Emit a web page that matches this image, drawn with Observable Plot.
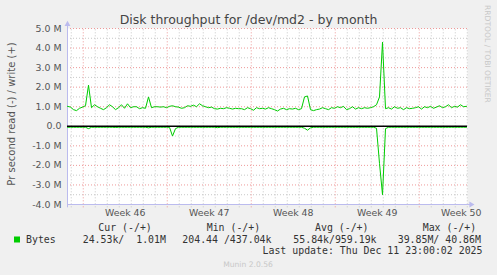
<!DOCTYPE html>
<html><head><meta charset="utf-8">
<script src="https://cdn.jsdelivr.net/npm/d3@7"></script>
<script src="https://cdn.jsdelivr.net/npm/@observablehq/plot@0.6"></script>
<style>
html,body{margin:0;padding:0;background:#F0F0F0;}
#wrap{position:relative;width:497px;height:275px;overflow:hidden;background:#F0F0F0;}
#wrap > svg{position:absolute;left:0;top:0;}
</style></head><body><div id="wrap"></div>
<script>
// ---------- data ----------
const title = "Disk throughput for /dev/md2 - by month";
const yLabel = "Pr second read (-) / write (+)";
const sideLabel = "RRDTOOL / TOBI OETIKER";
const versionLabel = "Munin 2.0.56";
const yTicks = [-4, -3, -2, -1, 0, 1, 2, 3, 4, 5];
const yTickLabels = ["-4.0 M", "-3.0 M", "-2.0 M", "-1.0 M", "0.0", "1.0 M", "2.0 M", "3.0 M", "4.0 M", "5.0 M"];
const weekLabels = ["Week 46", "Week 47", "Week 48", "Week 49", "Week 50"];
const weekStarts = ["2025-11-10", "2025-11-17", "2025-11-24", "2025-12-01", "2025-12-08"];
const startTime = "2025-11-08T16:30:00Z";
const endTime = "2025-12-12T00:30:00Z";
const sampleHours = 6;
// write (+), MB/s
const writeM = [
  1.02, 0.98, 0.85, 0.80, 0.92, 0.98, 1.05, 2.10, 0.95, 1.10,
  1.00, 0.92, 0.85, 0.95, 1.10, 1.00, 0.85, 0.95, 1.10, 0.92,
  1.15, 0.95, 1.00, 1.00, 0.90, 0.95, 0.92, 1.50, 0.95, 1.00,
  1.00, 0.98, 1.00, 0.95, 1.02, 1.05, 1.00, 0.98, 0.92, 0.95,
  1.05, 1.02, 1.08, 1.00, 1.15, 1.05, 1.00, 0.95, 0.98, 0.90,
  0.88, 0.92, 0.90, 0.95, 0.92, 0.88, 0.92, 0.90, 0.90, 0.85,
  0.95, 0.90, 0.82, 0.95, 0.90, 0.92, 0.88, 0.95, 0.90, 0.85,
  0.78, 0.88, 0.92, 0.85, 0.90, 0.88, 0.92, 0.85, 0.90, 1.50,
  1.55, 0.85, 0.80, 0.85, 0.88, 0.95, 0.90, 0.85, 0.95, 0.92,
  1.00, 0.95, 1.02, 0.85, 0.90, 1.00, 0.88, 0.95, 0.90, 0.95,
  0.92, 0.95, 1.00, 1.10, 1.50, 4.30, 0.90, 0.95, 0.88, 1.00,
  0.92, 0.95, 0.85, 0.95, 0.90, 0.92, 0.95, 1.00, 0.88, 1.00,
  0.95, 1.02, 0.92, 0.98, 1.05, 0.95, 1.00, 1.10, 0.95, 1.02,
  0.98, 1.10, 1.00, 1.02
];
// read (-), MB/s
const readM = [
  0.05, 0.05, 0.05, 0.05, 0.05, 0.05, 0.05, 0.12, 0.05, 0.05,
  0.05, 0.05, 0.05, 0.05, 0.05, 0.05, 0.06, 0.05, 0.05, 0.05,
  0.05, 0.05, 0.05, 0.05, 0.05, 0.05, 0.05, 0.08, 0.05, 0.05,
  0.05, 0.05, 0.05, 0.05, 0.05, 0.50, 0.12, 0.05, 0.05, 0.05,
  0.05, 0.05, 0.05, 0.05, 0.05, 0.05, 0.05, 0.05, 0.05, 0.05,
  0.07, 0.05, 0.05, 0.05, 0.05, 0.05, 0.05, 0.05, 0.05, 0.05,
  0.05, 0.05, 0.05, 0.05, 0.05, 0.05, 0.05, 0.05, 0.05, 0.05,
  0.05, 0.05, 0.05, 0.05, 0.05, 0.05, 0.05, 0.05, 0.05, 0.10,
  0.20, 0.08, 0.05, 0.05, 0.05, 0.05, 0.05, 0.05, 0.05, 0.05,
  0.05, 0.05, 0.05, 0.05, 0.05, 0.05, 0.05, 0.05, 0.05, 0.05,
  0.05, 0.05, 0.05, 0.10, 1.90, 3.50, 0.12, 0.05, 0.05, 0.05,
  0.05, 0.05, 0.05, 0.05, 0.05, 0.05, 0.05, 0.05, 0.05, 0.05,
  0.05, 0.05, 0.05, 0.05, 0.05, 0.05, 0.05, 0.05, 0.05, 0.05,
  0.05, 0.05, 0.05, 0.05
];
const legendSeries = "Bytes";
const legendHeaders = ["Cur (-/+)", "Min (-/+)", "Avg (-/+)", "Max (-/+)"];
const legendValues = ["24.53k/  1.01M", "204.44 /437.04k", "55.84k/959.19k", "39.85M/ 40.86M"];
const lastUpdate = "Last update: Thu Dec 11 23:00:02 2025";

// ---------- chart ----------
const green = "#00CC00", gridGray = "#C8C8C8", gridRed = "#EE9999", axisCol = "#BBBBEE";
const t0 = new Date(startTime), t1 = new Date(endTime);
const step = sampleHours * 3600e3;
const writeData = writeM.map((v, i) => ({t: new Date(+t0 + i * step), v}));
const readData = readM.map((v, i) => ({t: new Date(+t0 + i * step), v: -v}));
const weeks = weekStarts.map(s => new Date(s + "T00:00:00Z"));
const weekMids = weeks.map(d => new Date(+d + 3.5 * 864e5));
const days = d3.utcDay.range(d3.utcDay.ceil(t0), t1).filter(d => d.getUTCDay() !== 1);
const yMin = yTicks[0], yMax = yTicks[yTicks.length - 1];
const minorY = yTicks.slice(0, -1).map(v => v + 0.5);
const below = yMin - 0.17;
const arrowX = new Date(+t1 + 0.3 * 864e5);

const chart = Plot.plot({
  width: 497, height: 222,
  marginLeft: 67, marginRight: 30, marginTop: 28, marginBottom: 18,
  style: {background: "transparent", fontFamily: "DejaVu Sans", fontSize: "9.4px", color: "#555", overflow: "visible"},
  x: {type: "utc", domain: [t0, t1], label: null},
  y: {domain: [yMin, yMax], label: null},
  marks: [
    Plot.frame({fill: "white", stroke: null}),
    Plot.ruleY(minorY, {stroke: gridGray, strokeDasharray: "1,2"}),
    Plot.ruleX(days, {y1: below, y2: yMax, stroke: gridGray, strokeDasharray: "1,2"}),
    Plot.ruleY(yTicks.filter(v => v !== 0 && v !== yMin), {stroke: gridRed, strokeDasharray: "1,2"}),
    Plot.ruleX(weeks, {y1: below, y2: yMax, stroke: gridRed, strokeDasharray: "1,2"}),
    Plot.ruleX([t0], {y1: below, y2: yMax + 0.3, stroke: axisCol}),
    Plot.ruleY([yMin], {x1: t0, x2: arrowX, stroke: axisCol}),
    Plot.dot([{t: t0, v: yMax + 0.22}], {x: "t", y: "v", symbol: "triangle", r: 2.2, fill: axisCol, stroke: null}),
    Plot.dot([{t: arrowX, v: yMin}], {x: "t", y: "v", symbol: "triangle", r: 2.2, rotate: 90, fill: axisCol, stroke: null}),
    Plot.line(readData, {x: "t", y: "v", stroke: green, strokeWidth: 1}),
    Plot.ruleY([0], {stroke: "#000", strokeWidth: 1.5}),
    Plot.line(writeData, {x: "t", y: "v", stroke: green, strokeWidth: 1}),
    Plot.axisY({ticks: yTicks, tickFormat: d => yTickLabels[yTicks.indexOf(d)], tickSize: 0, tickPadding: 6, fill: "#555", label: null}),
    Plot.axisX({ticks: weekMids, tickFormat: d => weekLabels[weekMids.findIndex(m => +m === +d)], tickSize: 0, tickPadding: 5, fill: "#555", label: null})
  ]
});
const wrap = document.getElementById("wrap");
wrap.appendChild(chart);

// ---------- overlay texts ----------
const svg = d3.select(wrap).append("svg").attr("width", 497).attr("height", 275)
  .style("font-family", "DejaVu Sans");
svg.append("text").attr("x", 248.5).attr("y", 24).attr("text-anchor", "middle")
  .attr("font-size", 12.5).attr("fill", "#444").text(title);
svg.append("text").attr("transform", "translate(15,114) rotate(-90)").attr("text-anchor", "middle")
  .attr("font-size", 10).attr("fill", "#555").text(yLabel);
svg.append("text").attr("transform", "translate(485,5) rotate(90)").attr("text-anchor", "start")
  .attr("font-size", 7.6).attr("fill", "#C8C8C8").text(sideLabel);
const mono = "DejaVu Sans Mono";
const headX = [98.3, 206.7, 315, 422.7];
const valX = [82.7, 182.3, 293.3, 397.7];
legendHeaders.forEach((h, i) => svg.append("text").attr("x", headX[i]).attr("y", 230.5)
  .attr("font-family", mono).attr("font-size", 9.9).attr("fill", "#333").style("white-space", "pre").text(h));
svg.append("rect").attr("x", 14).attr("y", 236.5).attr("width", 6).attr("height", 6).attr("fill", green);
svg.append("text").attr("x", 26).attr("y", 242.5).attr("font-family", mono).attr("font-size", 9.9).attr("fill", "#333").text(legendSeries);
legendValues.forEach((v, i) => svg.append("text").attr("x", valX[i]).attr("y", 242.5)
  .attr("font-family", mono).attr("font-size", 9.9).attr("fill", "#333").style("white-space", "pre").text(v));
svg.append("text").attr("x", 482.5).attr("y", 254.3).attr("text-anchor", "end")
  .attr("font-family", mono).attr("font-size", 9.9).attr("fill", "#333").style("white-space", "pre").text(lastUpdate);
svg.append("text").attr("x", 248).attr("y", 266.5).attr("text-anchor", "middle")
  .attr("font-size", 7.6).attr("fill", "#C8C8C8").text(versionLabel);
</script></body></html>
